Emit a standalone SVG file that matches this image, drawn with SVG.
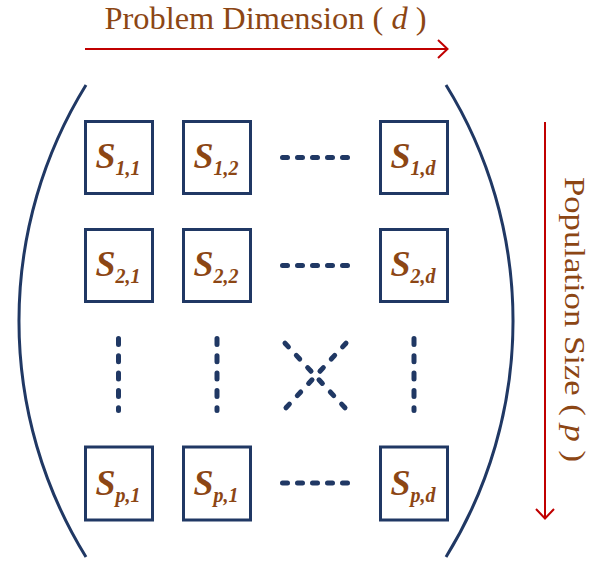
<svg xmlns="http://www.w3.org/2000/svg" width="598" height="561" viewBox="0 0 598 561">
<style>
.box{fill:#fff;stroke:#203864;stroke-width:3}
.lbl{font-family:"Liberation Serif",serif;font-weight:bold;font-style:italic;fill:#8C4614;text-anchor:middle}
.s{font-size:36px}
.sub{font-size:20px}
.dots{stroke:#203864;stroke-width:5;stroke-linecap:round;fill:none}
.arc{stroke:#203864;stroke-width:3;fill:none}
.axis{stroke:#C00000;stroke-width:2;fill:none}
.title{font-family:"Liberation Serif",serif;fill:#8C4614}
</style>
<rect width="598" height="561" fill="#fff"/>
<g id="brackets">
<path class="arc" d="M86,85 A449,449 0 0 0 86,557"/>
<path class="arc" d="M446,85 A449,449 0 0 1 446,557"/>
</g>
<g id="connectors">
<g id="axis-d">
<line class="axis" x1="85" y1="49" x2="447" y2="49"/>
<polyline class="axis" points="438,40 447.5,49 438,58"/>
</g>
<g id="axis-p">
<line class="axis" x1="545" y1="122" x2="545" y2="518"/>
<polyline class="axis" points="536,509 545,518.5 554,509"/>
</g>
</g>
<text class="title" x="104.5" y="28.5" font-size="32" textLength="322" lengthAdjust="spacingAndGlyphs">Problem Dimension ( <tspan font-style="italic">d</tspan> )</text>
<text class="title" transform="translate(565,319.5) rotate(90)" x="-142.5" y="0" font-size="30" textLength="285" lengthAdjust="spacingAndGlyphs">Population Size ( <tspan font-style="italic">p</tspan> )</text>
<g id="ellipsis">
<line class="dots" x1="282.5" y1="157.5" x2="347.5" y2="157.5" stroke-dasharray="5 10"/>
<line class="dots" x1="282.5" y1="265.5" x2="347.5" y2="265.5" stroke-dasharray="5 10"/>
<line class="dots" x1="282.5" y1="483" x2="347.5" y2="483" stroke-dasharray="5 10"/>
<line class="dots" x1="118.5" y1="338.5" x2="118.5" y2="410.5" stroke-dasharray="6 11.3"/>
<line class="dots" x1="217" y1="338.5" x2="217" y2="410.5" stroke-dasharray="6 11.3"/>
<line class="dots" x1="414" y1="338.5" x2="414" y2="410.5" stroke-dasharray="6 11.3"/>
<line class="dots" x1="285" y1="343.2" x2="345" y2="407.8" stroke-dasharray="5 11.64"/>
<line class="dots" x1="346" y1="343.2" x2="286" y2="407.8" stroke-dasharray="5 11.64"/>
</g>
<g id="s11"><rect class="box" x="85.5" y="121.5" width="67" height="72"/><text class="lbl" x="118" y="168"><tspan class="s">S</tspan><tspan class="sub" dy="7">1,1</tspan></text></g>
<g id="s12"><rect class="box" x="183.5" y="121.5" width="67" height="72"/><text class="lbl" x="216" y="168"><tspan class="s">S</tspan><tspan class="sub" dy="7">1,2</tspan></text></g>
<g id="s1d"><rect class="box" x="380.5" y="121.5" width="67" height="72"/><text class="lbl" x="413" y="168"><tspan class="s">S</tspan><tspan class="sub" dy="7">1,d</tspan></text></g>
<g id="s21"><rect class="box" x="85.5" y="229.5" width="67" height="72"/><text class="lbl" x="118" y="276"><tspan class="s">S</tspan><tspan class="sub" dy="7">2,1</tspan></text></g>
<g id="s22"><rect class="box" x="183.5" y="229.5" width="67" height="72"/><text class="lbl" x="216" y="276"><tspan class="s">S</tspan><tspan class="sub" dy="7">2,2</tspan></text></g>
<g id="s2d"><rect class="box" x="380.5" y="229.5" width="67" height="72"/><text class="lbl" x="413" y="276"><tspan class="s">S</tspan><tspan class="sub" dy="7">2,d</tspan></text></g>
<g id="sp1"><rect class="box" x="85.5" y="447" width="67" height="73"/><text class="lbl" x="118" y="495"><tspan class="s">S</tspan><tspan class="sub" dy="7">p,1</tspan></text></g>
<g id="sp1b"><rect class="box" x="183.5" y="447" width="67" height="73"/><text class="lbl" x="216" y="495"><tspan class="s">S</tspan><tspan class="sub" dy="7">p,1</tspan></text></g>
<g id="spd"><rect class="box" x="380.5" y="447" width="67" height="73"/><text class="lbl" x="413" y="495"><tspan class="s">S</tspan><tspan class="sub" dy="7">p,d</tspan></text></g>
</svg>
